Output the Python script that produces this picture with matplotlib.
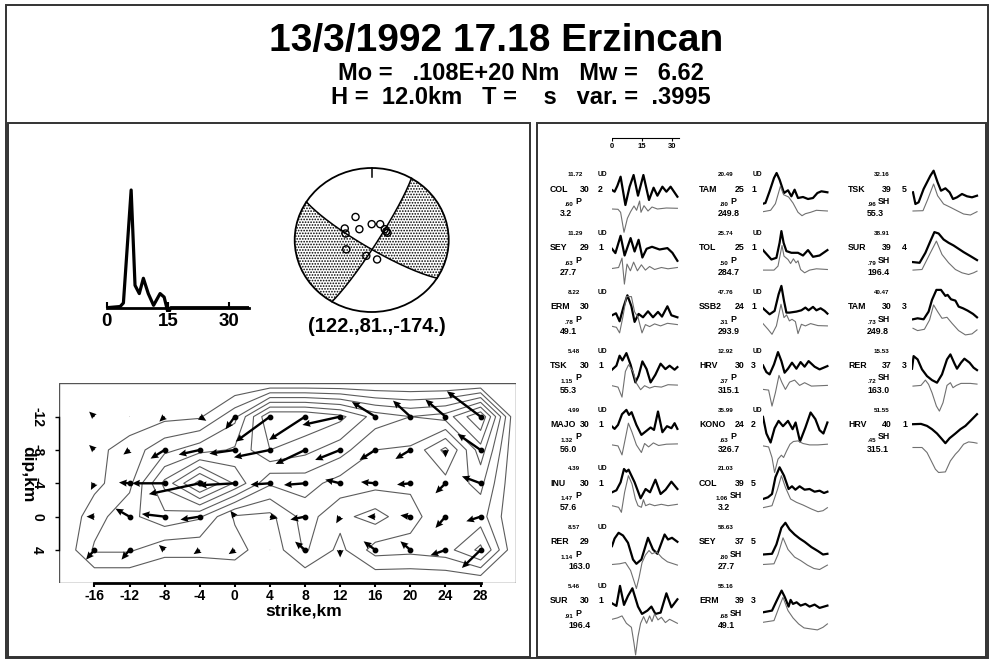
import numpy as np
import matplotlib.pyplot as plt
from matplotlib.patches import Rectangle, Circle

plt.rcParams['font.family'] = ['Liberation Sans', 'DejaVu Sans']
plt.rcParams['font.weight'] = 'bold'
plt.rcParams['axes.labelweight'] = 'bold'
plt.rcParams['hatch.color'] = 'black'
plt.rcParams['hatch.linewidth'] = 0.8

# ---------------- header
title = '13/3/1992 17.18 Erzincan'
line_mo = 'Mo =   .108E+20 Nm   Mw =   6.62'
line_h = 'H =  12.0km   T =    s   var. =  .3995'

# ---------------- source time function (s, relative rate)
stf_t = [0, 3.3, 4.1, 6.0, 6.95, 8.0, 9.0, 10.2, 11.5, 13.1, 14.1, 15.1, 15.7, 35]
stf_a = [0, 0.01, 0.04, 1.0, 0.19, 0.12, 0.25, 0.12, 0.02, 0.12, 0.09, -0.05, 0, 0]

# ---------------- focal mechanism (strike, dip, rake) and station positions
mech = (122., 81., -174.)
mech_label = '(122.,81.,-174.)'
sta_x = [-0.21, -0.35, -0.34, -0.16, 0.0, 0.11, 0.19, 0.17, 0.205, -0.33, -0.07, 0.07]
sta_y = [0.32, 0.16, 0.09, 0.15, 0.22, 0.22, 0.12, 0.15, 0.10, -0.13, -0.22, -0.27]

# ---------------- slip distribution (grid nodes, km)
grid_x = [-16, -12, -8, -4, 0, 4, 8, 12, 16, 20, 24, 28]
grid_y = [-12, -8, -4, 0, 4]
slip_u = [
    [-0.6, 0.0, -0.6, 0.75, -1.06, -3.9, -4.1, -4.3, -2.66, -1.98, -2.28, -3.84],
    [-0.6, -0.7, -1.6, -2.4, -2.9, -4.1, -3.35, -2.85, -1.79, -1.71, 0.0, -2.62],
    [-0.4, -1.2, -3.7, -5.8, -4.1, -2.2, -2.4, -1.7, -1.63, -1.52, -1.14, -2.13],
    [-0.9, -1.6, -2.6, -2.2, -0.5, 0.9, -1.67, -0.45, -0.9, -1.14, -1.14, -1.63],
    [-0.95, -0.91, -0.65, -0.7, -0.7, 0.0, -1.14, 0.0, -1.33, -1.14, -1.71, -2.13],
]
slip_v = [
    [-0.6, 0.0, 0.6, 0.5, 1.52, 3.0, 2.8, 1.0, -1.76, -1.92, -2.04, -3.04],
    [-0.6, 0.55, 1.04, 0.56, 0.44, 0.88, 1.68, 1.2, 1.2, 1.08, 0.9, -1.92],
    [0.8, -0.1, 0.0, 1.3, 0.24, 0.16, 0.2, -0.44, -0.16, 0.16, 1.2, -0.84],
    [0.0, -0.96, -0.32, 0.36, -0.7, 0.2, 0.36, 0.8, 0.0, -0.16, 1.36, 0.56],
    [1.16, 1.16, -0.6, 0.5, 0.5, 0.0, -1.0, 0.9, -1.04, -1.04, 0.64, 2.16],
]
slip_mag = [
    [0.5, 0.3, 0.5, 0.6, 1.9, 4.9, 4.9, 4.4, 3.2, 2.8, 3.1, 4.9],
    [0.5, 1.0, 1.9, 2.5, 2.9, 4.2, 3.7, 3.1, 2.1, 2.0, 0.5, 3.2],
    [0.5, 1.2, 3.7, 5.9, 4.1, 2.2, 2.4, 1.8, 1.65, 1.5, 1.7, 2.3],
    [1.1, 1.9, 2.6, 2.2, 0.6, 0.5, 1.7, 0.9, 0.4, 1.2, 1.8, 1.7],
    [1.5, 1.5, 0.9, 0.9, 1.0, 0.2, 1.5, 0.5, 1.7, 1.6, 1.8, 3.0],
]
slip_levels = [0.7, 1.4, 2.1, 2.8, 3.5, 4.2, 4.9, 5.6]

# ---------------- station annotations, per column
col1_names = ['COL', 'SEY', 'ERM', 'TSK', 'MAJO', 'INU', 'RER', 'SUR']
col1_amp = ['11.72', '11.29', '8.22', '5.48', '4.99', '4.39', '8.57', '5.46']
col1_dist = ['30', '29', '30', '30', '30', '30', '29', '30']
col1_n = ['2', '1', '', '1', '1', '1', '', '1']
col1_ratio = ['.60', '.63', '.78', '1.15', '1.32', '1.47', '1.14', '.91']
col1_phase = ['P'] * 8
col1_az = ['3.2', '27.7', '49.1', '55.3', '56.0', '57.6', '163.0', '196.4']

col2_names = ['TAM', 'TOL', 'SSB2', 'HRV', 'KONO', 'COL', 'SEY', 'ERM']
col2_amp = ['20.49', '25.74', '47.76', '12.92', '35.99', '21.03', '58.63', '55.16']
col2_dist = ['25', '25', '24', '30', '24', '39', '37', '39']
col2_n = ['1', '1', '1', '3', '2', '5', '5', '3']
col2_ratio = ['.80', '.50', '.31', '.37', '.63', '1.06', '.80', '.68']
col2_phase = ['P', 'P', 'P', 'P', 'P', 'SH', 'SH', 'SH']
col2_az = ['249.8', '284.7', '293.9', '315.1', '326.7', '3.2', '27.7', '49.1']

col3_names = ['TSK', 'SUR', 'TAM', 'RER', 'HRV']
col3_amp = ['32.16', '38.91', '40.47', '15.53', '51.55']
col3_dist = ['39', '39', '30', '37', '40']
col3_n = ['5', '4', '3', '3', '1']
col3_ratio = ['.96', '.79', '.73', '.72', '.45']
col3_phase = ['SH'] * 5
col3_az = ['55.3', '196.4', '249.8', '163.0', '315.1']

# ---------------- waveforms: (time s, amplitude)
COL_P_obs = [(0, 0), (1.3, -1.7), (2.7, 4.3), (4.3, 13.3), (6.7, -15), (8.8, 3.3), (10.8, 15), (13, -5.7), (15.7, 15), (18.5, -10), (20.8, 2.3), (22.7, -5.7), (25.2, 3.3), (27.2, -1.7), (29.3, 3.3), (32.7, -6.7)]
COL_P_syn = [(0, 0), (3, -0.3), (4.3, -3.3), (6, -23.3), (7.7, -9.3), (9.3, -2.7), (11, 3), (12.3, -1.3), (13.8, 8), (14.5, -3.3), (16, 3.3), (18, -2), (20, 2), (22.7, 0), (27.2, 1), (32.7, 0.7)]
SEY_P_obs = [(0, 0), (1.7, -4.3), (4.3, 13), (6.3, -6.7), (9.3, 10.7), (11.3, -2.7), (13.3, 9), (15.2, -8.7), (17.3, 0), (20, 2), (23.8, -0.7), (27.7, 0.7), (30.2, -4), (32.7, -12)]
SEY_P_syn = [(0, -0.7), (3.3, 0.3), (5, 9.7), (6.2, -16.3), (7.5, 3.7), (9.2, -3), (10.8, 5.7), (12.7, -3), (14.7, 3), (16.7, -2.3), (18.8, 1.3), (21.3, -1.7), (24.7, 0.3), (28, -1), (32.7, 0.3)]
ERM_P_obs = [(0, -7.7), (2, -5.7), (3.8, -13.7), (5.7, 0.3), (7.7, 12.3), (9.7, 1.3), (11.3, -14.3), (13.3, -6.3), (15.5, -9.7), (18, -3.7), (20.5, -9.7), (23, -4.3), (25, -9), (27.7, 1.3), (29.7, -7.7), (32.7, -9.7)]
ERM_P_syn = [(0, 0.3), (2.2, -0.7), (3.8, -6.3), (5.5, 10.3), (7.2, 30), (9.7, 30), (11.3, 14.7), (13, 9.3), (15, -6.3), (16.7, 2), (18.8, 0), (21.3, 2.7), (24.3, 0.7), (27.7, 3.3), (32.7, 2)]
TSK_P_obs = [(0, -3.3), (2.2, 0.7), (3.8, 10.7), (5.2, 6), (7.2, 13.3), (9.3, 1.7), (11.7, -16), (13.3, -9.3), (15.2, 5), (17.3, -2.7), (19.3, -16), (21.7, -8.3), (24.3, 2.7), (26.7, -2.7), (28.8, 0.7), (31.3, -3.3), (32.7, -0.7)]
TSK_P_syn = [(0, -0.3), (3, -1.7), (5, -11.7), (6.7, 14), (8.3, 20.7), (10.5, 14), (12.2, 2.3), (14.3, -4.3), (16.3, -0.3), (18.8, -2.7), (21.3, -1), (24.7, -1.7), (28, 0.7), (32.7, 0.3)]
MAJO_P_obs = [(0, -1.3), (1.3, -3.7), (3, 0.3), (5, 11), (7.2, 15.3), (8.5, 10.3), (9.8, 13), (12.2, 0.3), (14.7, -9.7), (17.2, -5.7), (19.3, -2.3), (21, -4.7), (23, 13.7), (25.2, -7), (27.5, -1), (29.7, -3), (31.3, 2), (32.7, -3.7)]
MAJO_P_syn = [(0, -0.7), (3, -1.7), (5, -10.7), (6.7, 6), (8.2, 21), (10, 12), (12.2, -0.7), (14.7, -8.3), (16.3, 0.7), (18.3, -2.7), (20.7, 1.3), (23.3, -1.3), (27.2, 0), (32.7, 0.3)]
INU_P_obs = [(0, -8.3), (2.2, -6.3), (4.3, 1.7), (6, 15), (7.2, 12.3), (8.3, 14.3), (11.3, 1.7), (14.3, -14.3), (16.8, -5), (19, -8.3), (21.7, 4.3), (24.3, -10), (26.8, -5.7), (29.7, 2.3), (32.7, -5)]
INU_P_syn = [(0, -2.7), (3.3, -4.3), (4.7, -9.3), (6.3, 10.7), (8.2, 27.3), (10, 19), (11.7, 4), (13, -2.7), (14.7, -4.3), (15.7, 3.3), (16.8, -2.7), (18.8, -1), (21.3, -2.7), (24.7, -1.3), (28, -2.7), (32.7, -1.3)]
RER_P_obs = [(0, -3.3), (1.3, 4.3), (3.3, 10), (5.5, 7.3), (8, 0), (10.5, -16.7), (12.2, -21), (14.7, -16.7), (18, 5), (20.5, -6.7), (22.7, -11), (26.3, 8.3), (28, 3.3), (30, 5), (32.7, 1)]
RER_P_syn = [(0, -2.7), (3.8, -2), (6.7, -0.7), (9.3, -8.7), (12.2, -26.7), (13.5, -16), (15, -1), (16.7, 6.7), (18.5, 11.3), (20, 8), (22.3, 10), (25, 4), (27.7, 0), (32.7, -3.3)]
SUR_P_obs = [(0, -1.7), (2.2, -4.3), (4, 15.7), (6, -3.3), (8, 5.7), (10.2, 13.3), (13, -5), (15, -12.3), (17.7, -9), (19.7, -5), (21.7, -12.3), (24.3, -11), (27.2, 8.3), (29.7, -5.7), (32.7, 2.3)]
SUR_P_syn = [(0, 1.3), (2.7, 2.7), (5, 4.7), (7.2, -2.7), (9.7, -6.7), (11, -22.7), (11.8, -34.3), (13, -16), (14.3, -2.7), (15.8, 4), (17.3, -2.7), (18.8, 4.7), (20, -1), (21.3, 6.7), (23, 0.7), (24.7, 3.3), (26.7, -2), (28.8, 1.3), (32.7, -2.7)]

TAM_P_obs = [(0, -13.7), (1.2, -13), (3.3, -1.3), (5.5, 12), (6.8, 17), (8.3, 10.3), (10.5, -3), (12.5, -0.3), (14.2, -6.3), (15.8, 0.3), (17.5, -8), (20, -7), (22.5, -9), (25, -8), (27.2, -3), (29.2, -1.3), (32.2, -2.3)]
TAM_P_syn = [(0, -2.7), (3.8, -1.3), (6.2, 5.3), (8.7, 22.7), (10.3, 14.3), (12.8, 12), (15, 6), (17.5, -3.3), (19.5, -6.7), (21.2, -4.7), (23.8, -3.3), (26.7, -1.3), (32.2, -2)]
TOL_P_obs = [(0, -1.3), (4.2, -10.7), (6.7, -9), (8.3, 6), (9.2, 17.7), (10.3, 6), (11.7, -2.3), (14.2, -4), (17.5, -4), (20, -6.7), (22.5, -1.3), (25, -8), (28.3, -6.7), (32.2, -1.3)]
TOL_P_syn = [(0, -2.3), (5.5, -2.3), (7.5, 1.7), (9.5, 22.3), (10.5, 11.7), (12.5, 8.3), (13.8, 4.3), (15.2, 9), (16.5, 5), (17.5, 7), (18.8, -1.7), (20.8, -5), (23.3, -2.3), (26.7, -1), (32.2, -1.7)]
SSB2_P_obs = [(0, -0.7), (3.3, -6.7), (5.8, -3.3), (7.8, 13.3), (9.2, 21.7), (10.5, 6.7), (11.7, -5), (13.3, -5), (16.7, -4), (19.2, -2.7), (21.2, 0), (22.8, -2.7), (25, 0.7), (26.7, -2.7), (28.8, -0.7), (30.8, -3.3), (32.2, -6)]
SSB2_P_syn = [(0, 3), (2.5, -2.7), (4.5, -7.7), (6.7, 0.7), (9, 22.3), (10.5, 9), (11.8, 11.7), (13.2, 5.7), (14.5, 7.3), (16.2, 5), (17.5, -7), (19.2, 2.3), (21.2, 0.7), (23.8, 3), (27.5, 1), (32.2, 0.7)]
HRV_P_obs = [(0, 1), (1.7, -5.7), (3.3, -8), (5.5, 2), (7.5, 14.3), (9.2, 5.3), (10.8, -6.3), (12.5, -2.3), (14.5, 3.7), (16.7, -2.3), (18.8, 4.3), (20.8, -0.3), (22.8, 5.3), (25.8, -0.3), (28.3, -3), (32.2, 0.3)]
HRV_P_syn = [(0, -4), (2.8, -4.7), (4.5, -20.7), (6.2, -7.3), (8, 10), (9.5, 2.7), (11.2, -4), (13.3, 3.3), (15.8, 5.3), (18.3, 0), (20.8, 2.7), (24.2, -0.7), (32.2, 0)]
KONO_P_obs = [(0, 8.3), (1.7, -8.3), (3.8, -17.3), (5.8, -3), (7.8, 4.3), (10, -1), (12.5, 4.3), (14.8, -4), (16.3, 2.7), (18.5, -16.3), (21.2, -2.3), (23.8, 12.7), (26.2, 6), (28.3, -5), (30.2, -8.3), (32.2, 2.7)]
KONO_P_syn = [(0, -1.7), (2.8, -2.7), (4.5, -13.3), (5.8, -28.3), (7.5, -15), (9.2, -11), (10.3, -13.3), (11.8, -6.7), (13.5, 0), (15.2, 2.7), (17.5, 3.3), (20, 0.7), (23.3, -0.7), (27.5, -0.7), (32.2, 0)]
COL_SH_obs = [(0, -15), (2.5, -13.3), (4.5, -10), (6.2, 6.7), (8.3, 16.7), (10.5, 8.3), (12.8, -5), (14.5, -2.3), (16.2, -5.7), (18.3, -2.3), (20.8, -5.7), (23.3, -5), (25.8, -7.7), (28.3, -6.7), (30.5, -9), (32.2, -7.7)]
COL_SH_syn = [(0, -4.7), (4.5, -2.7), (7.2, 13.3), (9.2, 27.3), (11.2, 15.7), (13.8, 4), (16.7, 0.7), (20, -2), (24.2, -6), (27.5, -8.7), (30, -7.7), (32.2, -4.7)]
SEY_SH_obs = [(0, -11.7), (4.5, -11), (6.7, -1.7), (9.2, 15), (11.2, 20), (13.3, 13.3), (15.8, 8.3), (18.3, 4.3), (20.8, 1), (24.2, -4.3), (27.5, -8.3), (30, -11.7), (32.2, -11)]
SEY_SH_syn = [(0, -2.7), (5.5, -2), (7.5, 7.3), (10, 24), (12.5, 12.3), (15.8, 4.7), (18.8, 1.3), (22.2, -3.3), (25.5, -6.7), (28.3, -7.7), (32.2, -3.3)]
ERM_SH_obs = [(0, -10.7), (4.5, -9), (6.7, 0.3), (9.3, 11), (10.8, 5), (12.8, -5), (13.8, 1.7), (15, -2.3), (16.8, -0.7), (18.8, -4), (21.2, -2.3), (23.3, -5), (25.8, -3), (28.3, -6.3), (32.2, -4)]
ERM_SH_syn = [(0, -1.7), (5.5, 0), (8, 13.3), (10, 23.3), (12.5, 10), (15, 2.7), (17.8, -3.3), (20.5, -7.3), (23.8, -8.3), (27.2, -9.3), (30, -6.7), (32.2, -3.3)]

TSK_SH_obs = [(0.5, -2.3), (1.7, -14), (3.3, -12.3), (5.8, 1), (9.2, 14.3), (10.8, 19.3), (12.8, 7.7), (14.5, -0.7), (16.7, 1.7), (18.8, -2.3), (20.5, -9), (22.5, -7.3), (25, -4), (27.5, -6.3), (30, -7.3), (32.5, -5.7)]
TSK_SH_syn = [(0.5, -2), (5.5, -1.7), (7.8, 9.3), (10.8, 25), (12.8, 13.3), (15.8, 5), (19.2, 1.7), (22.5, -1.7), (25.8, -5), (29.2, -6), (32.5, -2.7)]
SUR_SH_obs = [(0.5, -13.3), (3.8, -14), (6.7, -4), (9.2, 7.7), (11.2, 16.7), (13.3, 15.3), (15.8, 9.3), (18.3, 6), (20.8, 3.3), (23.3, 0), (25.8, -3.3), (29.2, -7.3), (32.5, -11.3)]
SUR_SH_syn = [(0.5, -2.3), (5, -1.7), (9.2, 15), (12.2, 26.7), (15, 13.3), (18.3, 5), (21.7, -1.7), (25, -5), (28.3, -6.7), (30.8, -5), (32.5, -3.3)]
TAM_SH_obs = [(0.5, -11.7), (2.8, -10.7), (5.8, -11.7), (8.3, -4), (10, 7.7), (12.2, 17.7), (14.5, 17.7), (16.7, 11.7), (17.8, 12.7), (19.5, 8.3), (21.7, 7), (23.3, 1), (25.5, -0.7), (27.8, -3), (30.5, -6.3), (32.5, -9.7)]
TAM_SH_syn = [(0.5, -1.7), (2.8, -4), (6.2, -2.7), (8.8, 6.7), (10.8, 21.7), (12.8, 15), (15, 8.3), (17.5, 9.3), (20, 3.3), (23.3, -4), (26.7, -8.3), (30, -7.3), (32.5, -3.3)]
RER_SH_obs = [(0, -2.3), (0.8, 10.3), (2.8, 7), (5, -3), (7.5, -9.7), (10, -13.7), (12.5, -16.3), (15, -8), (17.5, 7), (19.2, 12), (21.2, 3), (22.5, -2.3), (24.5, 3.7), (26.2, 7.7), (28.8, 3.7), (30.8, -1.3), (32.5, -3.7)]
RER_SH_syn = [(0.5, -0.7), (4.5, 0), (6.7, 5.3), (8.3, 1), (10, -7.3), (12.2, -20.7), (13.7, -25.7), (15.5, -17.3), (17.5, 0), (19.2, 2.7), (20.5, -2.3), (22.2, 0), (24.5, 2), (29.2, 2), (32.5, 1.3)]
HRV_SH_obs = [(0.5, 1), (4.5, 1.3), (7.5, -0.7), (10, -4), (12.5, -8.3), (15, -14), (16.7, -18), (18.8, -13), (21.7, -8.3), (24.2, -4), (26.7, -0.7), (29.2, 4.3), (32.5, 11)]
HRV_SH_syn = [(0.5, -3.3), (5, -3.3), (7.5, -8.3), (9.2, -15), (11.7, -25), (13.3, -28.3), (16.7, -27.7), (19.2, -16.7), (21.7, -10), (23.3, -6.7), (25.8, 0), (28.3, 2.3), (30.8, 1.7), (32.5, 1)]

col1_obs = [COL_P_obs, SEY_P_obs, ERM_P_obs, TSK_P_obs, MAJO_P_obs, INU_P_obs, RER_P_obs, SUR_P_obs]
col1_syn = [COL_P_syn, SEY_P_syn, ERM_P_syn, TSK_P_syn, MAJO_P_syn, INU_P_syn, RER_P_syn, SUR_P_syn]
col2_obs = [TAM_P_obs, TOL_P_obs, SSB2_P_obs, HRV_P_obs, KONO_P_obs, COL_SH_obs, SEY_SH_obs, ERM_SH_obs]
col2_syn = [TAM_P_syn, TOL_P_syn, SSB2_P_syn, HRV_P_syn, KONO_P_syn, COL_SH_syn, SEY_SH_syn, ERM_SH_syn]
col3_obs = [TSK_SH_obs, SUR_SH_obs, TAM_SH_obs, RER_SH_obs, HRV_SH_obs]
col3_syn = [TSK_SH_syn, SUR_SH_syn, TAM_SH_syn, RER_SH_syn, HRV_SH_syn]

time_ticks = [0, 15, 30]

# =====================================================================
W, H = 994, 666
fig = plt.figure(figsize=(W / 100, H / 100), dpi=100)
lay = fig.add_axes([0, 0, 1, 1])
lay.set_xlim(0, W)
lay.set_ylim(H, 0)
lay.axis('off')


def px_axes(x0, y0, x1, y1):
    a = fig.add_axes([x0 / W, 1 - y1 / H, (x1 - x0) / W, (y1 - y0) / H])
    a.patch.set_visible(False)
    return a


# frames
for x0, y0, x1, y1 in [(6, 5, 988, 658), (8, 123, 530, 657), (537, 123, 986, 657)]:
    lay.add_patch(Rectangle((x0, y0), x1 - x0, y1 - y0, fill=False, lw=1.4, ec='#333333'))

lay.text(496, 41, title, ha='center', va='center', fontsize=28)
lay.text(521, 74, line_mo, ha='center', va='center', fontsize=17)
lay.text(521, 98, line_h, ha='center', va='center', fontsize=17)

# ---------------- source time function
ax = px_axes(106.7, 175, 249.3, 312)
ax.plot(stf_t, stf_a, color='black', lw=2.3)
ax.set_xlim(0, 35)
ax.set_ylim(-(312 - 307.7) / 117.7, (307.7 - 175) / 117.7)
for s in ['left', 'right', 'top']:
    ax.spines[s].set_visible(False)
ax.spines['bottom'].set_position(('data', 0))
ax.spines['bottom'].set_linewidth(2)
ax.set_yticks([])
ax.set_xticks(time_ticks)
ax.tick_params(axis='x', direction='in', length=4, width=1.5, pad=4, labelsize=13.5)

# ---------------- beachball
bb = px_axes(371.7 - 77 * 1.1, 240 - 72 * 1.1, 371.7 + 77 * 1.1, 240 + 72 * 1.1)
bb.set_xlim(-1.1, 1.1)
bb.set_ylim(-1.1, 1.1)
bb.axis('off')

phi, delta, lam = np.radians(mech)
n_vec = np.array([-np.sin(delta) * np.sin(phi), np.sin(delta) * np.cos(phi), -np.cos(delta)])
u_vec = np.array([np.cos(lam) * np.cos(phi) + np.cos(delta) * np.sin(lam) * np.sin(phi),
                  np.cos(lam) * np.sin(phi) - np.cos(delta) * np.sin(lam) * np.cos(phi),
                  -np.sin(lam) * np.sin(delta)])


def project(v):
    v = np.atleast_2d(v)
    v = np.where(v[:, 2:3] < 0, -v, v)
    th = np.arccos(np.clip(v[:, 2], -1, 1))
    r = np.sqrt(2) * np.sin(th / 2)
    az = np.arctan2(v[:, 1], v[:, 0])
    return r * np.sin(az), r * np.cos(az)


def plane_trace(normal):
    m = normal / np.linalg.norm(normal)
    e1 = np.cross(m, [0, 0, 1.0])
    e1 /= np.linalg.norm(e1)
    e2 = np.cross(m, e1)
    if e2[2] < 0:
        e2 = -e2
    th = np.linspace(0, np.pi, 181)
    return project(np.outer(np.cos(th), e1) + np.outer(np.sin(th), e2))


g = np.linspace(-1, 1, 401)
GX, GY = np.meshgrid(g, g)
R = np.hypot(GX, GY)
TH = 2 * np.arcsin(np.clip(R / np.sqrt(2), 0, 1))
AZ = np.arctan2(GX, GY)
VV = np.stack([np.sin(TH) * np.cos(AZ), np.sin(TH) * np.sin(AZ), np.cos(TH)])
pol = np.einsum('i,ijk->jk', n_vec, VV) * np.einsum('i,ijk->jk', u_vec, VV)
pol = np.where(R <= 1, pol, np.nan)
circ = Circle((0, 0), 1, fill=False, lw=1.3, ec='black', zorder=4)
bb.add_patch(circ)
cs = bb.contourf(GX, GY, pol, levels=[0, 1], colors='none', hatches=['......'])
cs.set_clip_path(circ)
for nrm in (n_vec, u_vec):
    px, py = plane_trace(nrm)
    bb.plot(px, py, color='black', lw=1.1, zorder=3)
bb.plot([0, 0], [1, 0.87], color='black', lw=1.1)
bb.scatter(sta_x, sta_y, s=26, facecolors='none', edgecolors='black', linewidths=1.0, zorder=5)
lay.text(377, 327, mech_label, ha='center', va='center', fontsize=14.5)

# ---------------- slip map
sm = px_axes(59.3, 383.3, 515.7, 583.3)
sm.set_xlim(-20, 32)
sm.set_ylim(8, -16)
cx = [-20] + grid_x + [32]
cy = [-16] + grid_y + [8]
Z = np.pad(np.array(slip_mag), 1)
sm.contour(cx, cy, Z, levels=slip_levels, colors='#5c5c5c', linewidths=0.8)
NX, NY = np.meshgrid(grid_x, grid_y)
U = np.array(slip_u)
V = np.array(slip_v)
sm.quiver(NX, NY, U, V, angles='xy', scale_units='xy', scale=1, color='black',
          width=0.0052, headwidth=3.0, headlength=3.3, headaxislength=3.0,
          minlength=0.2, zorder=3)
Lm = np.hypot(U, V)
sm.scatter(NX[Lm > 1.05], NY[Lm > 1.05], s=10, color='black', zorder=4)
sm.add_patch(Rectangle((0, 0), 1, 1, transform=sm.transAxes, fill=False, lw=1.0, ec='#555555'))
sm.spines['top'].set_visible(False)
sm.spines['right'].set_visible(False)
sm.spines['bottom'].set_bounds(-16, 28)
sm.spines['bottom'].set_linewidth(2)
sm.spines['left'].set_bounds(4, -12)
sm.spines['left'].set_linewidth(1.0)
sm.set_xticks(grid_x)
sm.set_xticklabels([str(v) for v in grid_x], fontsize=10)
sm.set_yticks(grid_y)
sm.set_yticklabels([str(v) for v in grid_y], fontsize=10, rotation=-90, va='center')
sm.tick_params(axis='x', direction='out', length=3, width=1.5, pad=1)
sm.tick_params(axis='y', direction='out', length=3, width=1.0, pad=8)
sm.set_xlabel('strike,km', fontsize=12.5)
sm.xaxis.set_label_coords((304 - 59.3) / 456.4, -(603 - 583.3) / 200)
sm.set_ylabel('dip,km', fontsize=12.5, rotation=-90, va='center')
sm.yaxis.set_label_coords((28 - 59.3) / 456.4, (583.3 - 474) / 200)

# ---------------- waveforms
row_y = [189 + 58.8 * i for i in range(8)]
columns = [
    dict(x=550, num=568, ud=598, d=580, n=598, rat=573, ph=575, az=(560, 568), wave=612,
         names=col1_names, amp=col1_amp, dist=col1_dist, nn=col1_n, ratio=col1_ratio,
         phase=col1_phase, azs=col1_az, obs=col1_obs, syn=col1_syn),
    dict(x=699, num=718, ud=753, d=735, n=751, rat=728, ph=730, az=(718, 718), wave=763,
         names=col2_names, amp=col2_amp, dist=col2_dist, nn=col2_n, ratio=col2_ratio,
         phase=col2_phase, azs=col2_az, obs=col2_obs, syn=col2_syn),
    dict(x=848, num=874, ud=903, d=882, n=902, rat=876, ph=878, az=(867, 867), wave=912,
         names=col3_names, amp=col3_amp, dist=col3_dist, nn=col3_n, ratio=col3_ratio,
         phase=col3_phase, azs=col3_az, obs=col3_obs, syn=col3_syn),
]

for k, c in enumerate(columns):
    wa = px_axes(c['wave'], 128, c['wave'] + 70, 660)
    wa.set_xlim(0, 35)
    wa.set_ylim(660, 128)
    wa.axis('off')
    for i, name in enumerate(c['names']):
        y0 = row_y[i]
        to, ao = zip(*c['obs'][i])
        ts, as_ = zip(*c['syn'][i])
        wa.plot(to, y0 + 1 - np.array(ao), color='black', lw=1.6)
        wa.plot(ts, y0 + 20 - np.array(as_), color='#707070', lw=0.8)
        lay.text(c['num'], y0 - 14, c['amp'][i], fontsize=4.5, va='center')
        if c['phase'][i] == 'P':
            lay.text(c['ud'], y0 - 14, 'UD', fontsize=4.8, va='center')
        lay.text(c['x'], y0, name, fontsize=6.3, va='center')
        lay.text(c['d'], y0, c['dist'][i], fontsize=6.3, va='center')
        lay.text(c['n'], y0, c['nn'][i], fontsize=6.3, va='center')
        lay.text(c['rat'], y0 + 16, c['ratio'][i], fontsize=4.5, va='center', ha='right')
        lay.text(c['ph'], y0 + 12.5, c['phase'][i], fontsize=6.3, va='center')
        azx = c['az'][1] if float(c['azs'][i]) >= 100 else c['az'][0]
        lay.text(azx, y0 + 25, c['azs'][i], fontsize=6.3, va='center')
    if k == 0:
        wa.plot([0, 33.5], [138, 138], color='black', lw=0.8)
        wa.vlines(time_ticks, 138, 141, color='black', lw=0.8)
        for tt in time_ticks:
            wa.text(tt, 146, str(tt), fontsize=5.5, ha='center', va='center')

fig.savefig('out.png', dpi=100)
